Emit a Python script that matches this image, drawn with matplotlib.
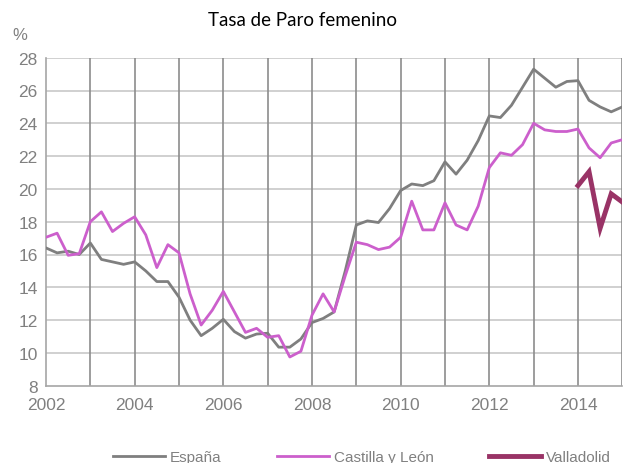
import numpy as np
import matplotlib
matplotlib.use("Agg")
import matplotlib.pyplot as plt

# Tasa de paro femenino, datos trimestrales 2002-2015
inicio = 2002
espana = [16.4, 16.1, 16.2, 16.0, 16.7, 15.7, 15.55, 15.4, 15.55, 15.0, 14.35, 14.35,
          13.4, 12.0, 11.05, 11.5, 12.05, 11.3, 10.9, 11.15, 11.2, 10.35, 10.35, 10.85,
          11.85, 12.1, 12.5, 15.0, 17.8, 18.05, 17.95, 18.8, 19.9, 20.3, 20.2, 20.5,
          21.65, 20.9, 21.75, 22.95, 24.45, 24.35, 25.1, 26.2, 27.3, 26.75, 26.2, 26.55,
          26.6, 25.4, 25.0, 24.7, 25.0]
castilla = [17.05, 17.3, 15.95, 16.05, 18.0, 18.6, 17.4, 17.9, 18.3, 17.2, 15.2, 16.6,
            16.1, 13.6, 11.7, 12.6, 13.75, 12.5, 11.25, 11.5, 10.95, 11.05, 9.75, 10.1,
            12.3, 13.6, 12.5, 14.7, 16.75, 16.6, 16.3, 16.45, 17.05, 19.25, 17.5, 17.5,
            19.15, 17.8, 17.5, 18.95, 21.3, 22.2, 22.05, 22.7, 24.0, 23.6, 23.5, 23.5,
            23.65, 22.5, 21.9, 22.8, 23.0]
valladolid = [20.2, 21.05, 17.6, 19.7, 19.2]
inicio_vall = 2014

t = inicio + np.arange(len(espana)) / 4
t_vall = inicio_vall + np.arange(len(valladolid)) / 4

gris_txt = "#808080"

fig = plt.figure(figsize=(6.23, 4.64), dpi=100)
ax = fig.add_axes([46 / 623, 1 - 386.7 / 464, 576.3 / 623, 328 / 464])

ax.plot(t, espana, color="#7f7f7f", lw=2.0, label="España", zorder=3)
ax.plot(t, castilla, color="#cc5fcc", lw=2.0, label="Castilla y León", zorder=3)
ax.plot(t_vall, valladolid, color="#993366", lw=3.5, label="Valladolid", zorder=4,
        solid_joinstyle="miter")

ax.set_xlim(2002, 2015)
ax.set_ylim(8, 28)
ax.set_yticks(range(8, 29, 2))
ax.set_xticks(range(2002, 2015, 2))
ax.set_xticks(range(2002, 2016), minor=True)

for y in range(10, 29, 2):
    ax.axhline(y, color="#c8c8c8", lw=1.2, zorder=1)
for x in range(2003, 2016):
    ax.axvline(x, color="#8c8c8c", lw=1.2, zorder=1)

for s in ["top", "right"]:
    ax.spines[s].set_visible(False)
for s in ["left", "bottom"]:
    ax.spines[s].set_color("#a6a6a6")
    ax.spines[s].set_linewidth(1.2)

ax.tick_params(which="both", length=0, colors=gris_txt, labelsize=12.5,
               labelfontfamily="Liberation Sans")
ax.tick_params(axis="x", pad=8)
ax.tick_params(axis="y", pad=6)

fig.text(303 / 623, 1 - 20 / 464, "Tasa de Paro femenino", ha="center", va="center",
         fontsize=13.5, family="Lato", color="black")
fig.text(20 / 623, 1 - 36 / 464, "%", ha="center", va="center", fontsize=12,
         family="Liberation Sans", color=gris_txt)

leg = fig.legend(loc="center", bbox_to_anchor=(362 / 623, 1 - 458 / 464), ncol=3,
                 frameon=False, handlelength=3.4, columnspacing=3.6, handletextpad=0.35,
                 prop={"family": "Liberation Sans", "size": 11})
for txt in leg.get_texts():
    txt.set_color(gris_txt)

fig.savefig("out.png", dpi=100)
